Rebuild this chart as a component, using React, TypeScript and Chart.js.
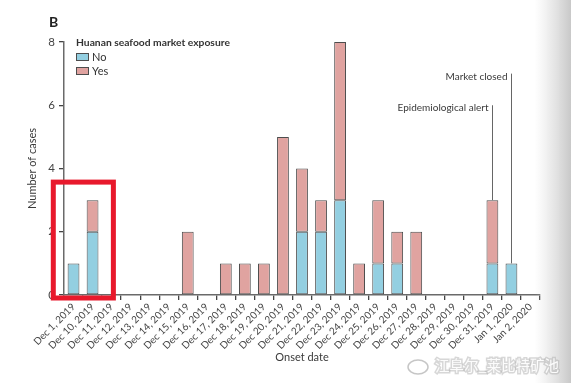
import React, { useEffect, useRef } from "react";
import { Chart, registerables } from "chart.js";

Chart.register(...registerables);

const categories = [
  "Dec 1, 2019", "Dec 10, 2019", "Dec 11, 2019", "Dec 12, 2019", "Dec 13, 2019",
  "Dec 14, 2019", "Dec 15, 2019", "Dec 16, 2019", "Dec 17, 2019", "Dec 18, 2019",
  "Dec 19, 2019", "Dec 20, 2019", "Dec 21, 2019", "Dec 22, 2019", "Dec 23, 2019",
  "Dec 24, 2019", "Dec 25, 2019", "Dec 26, 2019", "Dec 27, 2019", "Dec 28, 2019",
  "Dec 29, 2019", "Dec 30, 2019", "Dec 31, 2019", "Jan 1, 2020", "Jan 2, 2020",
];
const noCases = [1, 2, 0, 0, 0, 0, 0, 0, 0, 0, 0, 0, 2, 2, 3, 0, 1, 1, 0, 0, 0, 0, 1, 1, 0];
const yesCases = [0, 1, 0, 0, 0, 0, 2, 0, 1, 1, 1, 5, 2, 1, 5, 1, 2, 1, 2, 0, 0, 0, 2, 0, 0];
const seriesNames = ["No", "Yes"];
const legendTitle = "Huanan seafood market exposure";
const panelLabel = "B";
const yTitle = "Number of cases";
const xTitle = "Onset date";
const yMax = 8;
const yStep = 2;
const eventLabels = ["Epidemiological alert", "Market closed"];
const eventDates = ["Dec 31, 2019", "Jan 1, 2020"];
const eventLevels = [6, 7];
const highlightDates = ["Dec 1, 2019", "Dec 10, 2019"];
const highlightLevel = 3.57;
const watermark = "江阜尔_莱比特矿池";

const FONT = "Lato, 'Noto Sans', sans-serif";
const NO_COLOR = "#93cfe1";
const YES_COLOR = "#e0a3a0";
const EDGE = "#4d4d4d";
const TEXT = "#3a3a3a";

const toBars = (arr: number[]) => arr.map((v) => (v === 0 ? null : v));

const overlayPlugin = {
  id: "overlay",
  afterDraw(chart: any) {
    const { ctx, scales, chartArea } = chart;
    const x = scales.x;
    const y = scales.y;
    ctx.save();

    // panel label
    ctx.fillStyle = "#222";
    ctx.font = `bold 14px ${FONT}`;
    ctx.textBaseline = "middle";
    ctx.textAlign = "left";
    ctx.fillText(panelLabel, 49, 22);

    // legend
    const lx = chartArea.left + 12;
    ctx.font = `bold 10.3px ${FONT}`;
    ctx.fillStyle = "#333";
    ctx.fillText(legendTitle, lx, chartArea.top + 1);
    const colors = [NO_COLOR, YES_COLOR];
    seriesNames.forEach((name, i) => {
      const by = chartArea.top + 11 + i * 14;
      ctx.fillStyle = colors[i];
      ctx.fillRect(lx, by, 12, 7);
      ctx.strokeStyle = EDGE;
      ctx.lineWidth = 1;
      ctx.strokeRect(lx + 0.5, by + 0.5, 12, 7);
      ctx.fillStyle = "#333";
      ctx.font = `11px ${FONT}`;
      ctx.fillText(name, lx + 16, by + 4);
    });

    // event annotations
    eventLabels.forEach((label, i) => {
      const idx = categories.indexOf(eventDates[i]);
      const px = Math.round(x.getPixelForValue(idx)) + 0.5;
      const total = noCases[idx] + yesCases[idx];
      const yTop = y.getPixelForValue(eventLevels[i]);
      const yBot = y.getPixelForValue(total);
      ctx.strokeStyle = "#666";
      ctx.lineWidth = 1;
      ctx.beginPath();
      ctx.moveTo(px, yTop);
      ctx.lineTo(px, yBot);
      ctx.stroke();
      ctx.fillStyle = TEXT;
      ctx.font = `10px ${FONT}`;
      ctx.textAlign = "right";
      ctx.textBaseline = "middle";
      ctx.fillText(label, px - 4, yTop + 3);
    });

    // red highlight box
    const i0 = categories.indexOf(highlightDates[0]);
    const i1 = categories.indexOf(highlightDates[1]);
    const half = (x.getPixelForValue(1) - x.getPixelForValue(0)) / 2;
    const rl = x.getPixelForValue(i0) - half - 10.7;
    const rr = x.getPixelForValue(i1) + half + 11.3;
    const rt = y.getPixelForValue(highlightLevel);
    const rb = y.getPixelForValue(0) + 3;
    ctx.strokeStyle = "#e8192c";
    ctx.lineWidth = 5;
    ctx.strokeRect(rl, rt, rr - rl, rb - rt);

    // page shade on the right edge
    const g = ctx.createLinearGradient(535, 0, 571, 0);
    g.addColorStop(0, "rgba(215,215,215,0)");
    g.addColorStop(1, "rgba(200,200,200,1)");
    ctx.fillStyle = g;
    ctx.fillRect(535, 0, 36, 383);

    // watermark
    ctx.font = `14.5px 'Noto Sans CJK SC', sans-serif`;
    ctx.textAlign = "left";
    ctx.textBaseline = "middle";
    ctx.lineWidth = 3;
    ctx.strokeStyle = "rgba(175,175,175,0.5)";
    ctx.strokeText(watermark, 435, 365);
    ctx.fillStyle = "rgba(255,255,255,0.95)";
    ctx.fillText(watermark, 435, 365);
    ctx.strokeStyle = "rgba(160,160,160,0.6)";
    ctx.lineWidth = 1.5;
    ctx.beginPath();
    ctx.ellipse(418, 367, 10, 7, 0, 0, Math.PI * 2);
    ctx.stroke();

    ctx.restore();
  },
};

export default function App() {
  const ref = useRef<HTMLCanvasElement | null>(null);
  useEffect(() => {
    if (!ref.current) return;
    const chart = new Chart(ref.current, {
      type: "bar",
      data: {
        labels: categories,
        datasets: [
          {
            label: seriesNames[0],
            data: toBars(noCases),
            backgroundColor: NO_COLOR,
            borderColor: EDGE,
            borderWidth: 1,
            borderSkipped: false,
            barPercentage: 0.62,
            categoryPercentage: 1,
          },
          {
            label: seriesNames[1],
            data: toBars(yesCases),
            backgroundColor: YES_COLOR,
            borderColor: EDGE,
            borderWidth: 1,
            borderSkipped: false,
            barPercentage: 0.62,
            categoryPercentage: 1,
          },
        ],
      },
      options: {
        responsive: false,
        animation: false,
        layout: { padding: { left: 0, right: 31, top: 42, bottom: 0 } },
        plugins: {
          legend: { display: false },
          tooltip: { enabled: false },
          title: { display: false },
        },
        scales: {
          x: {
            stacked: true,
            offset: true,
            afterFit: (s: any) => {
              s.height = 88;
            },
            grid: {
              display: true,
              drawOnChartArea: false,
              drawTicks: true,
              tickLength: 5,
              color: "#444",
              lineWidth: 1.3,
            },
            border: { display: true, color: "#6a6a6a", width: 1.5 },
            ticks: {
              autoSkip: false,
              minRotation: 45,
              maxRotation: 45,
              padding: 1,
              color: "#444",
              font: { family: FONT, size: 10 },
            },
            title: {
              display: true,
              text: xTitle,
              color: TEXT,
              font: { family: FONT, size: 11 },
              padding: { top: 0, bottom: 19 },
            },
          },
          y: {
            stacked: true,
            min: 0,
            max: yMax,
            afterFit: (s: any) => {
              s.width = 64;
            },
            grid: {
              display: true,
              drawOnChartArea: false,
              drawTicks: true,
              tickLength: 5,
              color: "#444",
              lineWidth: 1.3,
            },
            border: { display: true, color: "#6a6a6a", width: 1.5 },
            ticks: {
              stepSize: yStep,
              padding: 4,
              color: "#444",
              font: { family: FONT, size: 11.5 },
            },
            title: {
              display: true,
              text: yTitle,
              color: TEXT,
              font: { family: FONT, size: 11 },
              padding: { top: 26, bottom: 0 },
            },
          },
        },
      },
      plugins: [overlayPlugin],
    });
    return () => chart.destroy();
  }, []);

  return (
    <div style={{ position: "fixed", left: 0, top: 0, width: 571, height: 383, background: "#fff" }}>
      <canvas ref={ref} width={571} height={383} style={{ display: "block" }} />
    </div>
  );
}
